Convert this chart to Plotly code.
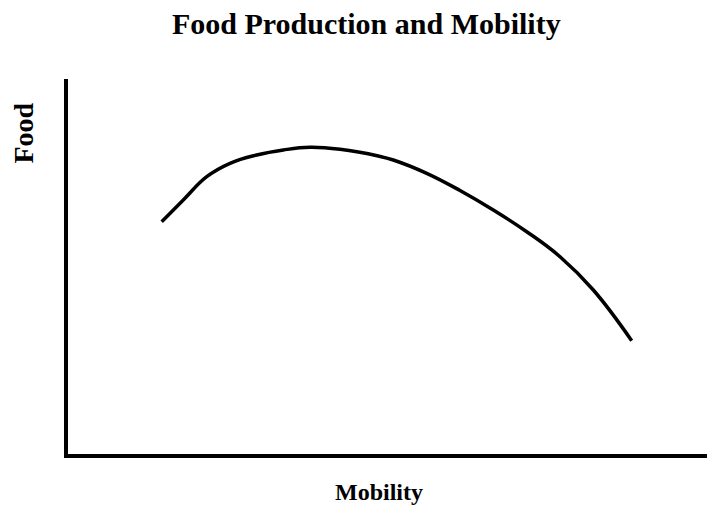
import plotly.graph_objects as go

mobility = [1.455, 1.790, 2.154, 2.516, 2.930, 3.343, 3.758, 4.224, 4.818,
            5.051, 5.570, 6.087, 6.604, 7.123, 7.640, 8.157, 8.753]
food = [6.195, 6.773, 7.395, 7.752, 7.973, 8.107, 8.179, 8.125, 7.947,
        7.840, 7.485, 7.027, 6.507, 5.928, 5.261, 4.373, 3.021]

title_text = "Food Production and Mobility"
x_title = "Mobility"
y_title = "Food"

serif = "Liberation Serif, Times New Roman, serif"

fig = go.Figure()
fig.add_trace(go.Scatter(x=mobility, y=food, mode="lines",
                         line=dict(color="black", width=3.5, shape="spline", smoothing=1.2),
                         hoverinfo="skip", showlegend=False))

fig.update_layout(
    width=707, height=498,
    margin=dict(l=60, r=3, t=71, b=52),
    paper_bgcolor="white", plot_bgcolor="white",
    showlegend=False,
    xaxis=dict(range=[0, 10], showline=True, linecolor="black", linewidth=3.5,
               showgrid=False, zeroline=False, showticklabels=False, ticks=""),
    yaxis=dict(range=[0, 10], showline=True, linecolor="black", linewidth=3.5,
               showgrid=False, zeroline=False, showticklabels=False, ticks=""),
    annotations=[
        dict(text="<b>%s</b>" % title_text, xref="paper", yref="paper",
             x=(366 - 68) / 644, y=1 + (79 - 24) / 375, xanchor="center", yanchor="middle",
             showarrow=False, font=dict(family=serif, size=30, color="black")),
        dict(text="<b>%s</b>" % x_title, xref="paper", yref="paper",
             x=(379 - 68) / 644, y=-(492 - 454) / 375, xanchor="center", yanchor="middle",
             showarrow=False, font=dict(family=serif, size=24, color="black")),
        dict(text="<b>%s</b>" % y_title, xref="paper", yref="paper",
             x=-(68 - 22.5) / 644, y=(454 - 133) / 375, xanchor="center", yanchor="middle",
             textangle=-90, showarrow=False, font=dict(family=serif, size=28, color="black")),
    ],
)

fig.write_html("out.html")
